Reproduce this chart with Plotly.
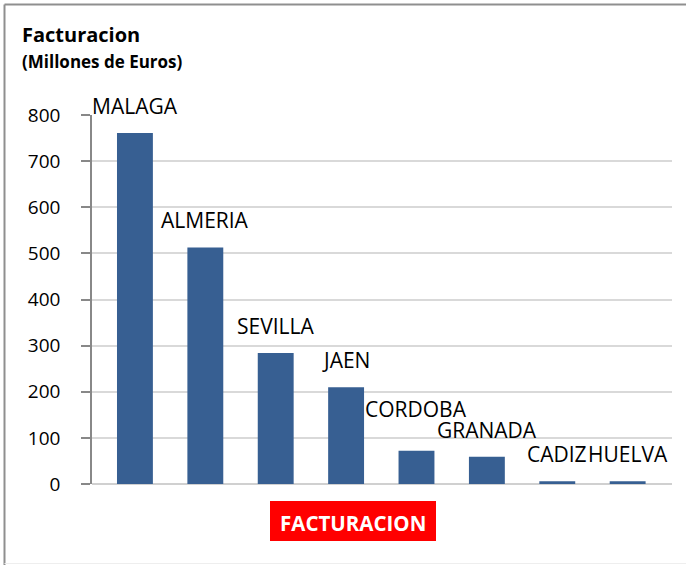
import plotly.graph_objects as go

categories = ["MALAGA", "ALMERIA", "SEVILLA", "JAEN", "CORDOBA", "GRANADA", "CADIZ", "HUELVA"]
values = [761, 513, 284, 210, 72, 59, 6, 6]
y_ticks = [0, 100, 200, 300, 400, 500, 600, 700, 800]

W, H = 686, 565
L, R, T, B = 92, 14, 115, 81
pw, ph = W - L - R, H - T - B

def px(x):
    return (x - L) / pw

def py(y):
    return (H - B - y) / ph

# extra lift for labels that the original nudged upward to avoid collisions
label_lift = {"CORDOBA": 15}

fig = go.Figure()
fig.add_trace(go.Bar(
    x=list(range(len(categories))), y=values, width=0.51,
    marker=dict(color="#375F92", line=dict(width=0)),
    hoverinfo="skip",
))

for i, (c, v) in enumerate(zip(categories, values)):
    fig.add_annotation(x=i, y=v, text=c, showarrow=False, xanchor="center",
                       yanchor="bottom", yshift=11 + label_lift.get(c, 0),
                       font=dict(family="Open Sans", size=21, color="#000000"))

# titles
fig.add_annotation(xref="paper", yref="paper", x=px(20), y=py(35), text="<b>Facturacion</b>",
                   showarrow=False, xanchor="left", yanchor="middle",
                   font=dict(family="Open Sans", size=20, color="#000000"))
fig.add_annotation(xref="paper", yref="paper", x=px(20), y=py(61), text="<b>(Millones de Euros)</b>",
                   showarrow=False, xanchor="left", yanchor="middle",
                   font=dict(family="Open Sans", size=17, color="#000000"))

# red label box
fig.add_shape(type="rect", xref="paper", yref="paper", x0=px(270), x1=px(436), y0=py(541), y1=py(501),
              fillcolor="#FF0000", line=dict(width=0), layer="above")
fig.add_annotation(xref="paper", yref="paper", x=px(353), y=py(523), text="<b>FACTURACION</b>",
                   showarrow=False, xanchor="center", yanchor="middle",
                   font=dict(family="Open Sans", size=20.5, color="#FFFFFF"))

# chart border
fig.add_shape(type="line", xref="paper", yref="paper", x0=px(4.5), x1=px(4.5), y0=py(565), y1=py(4.5),
              line=dict(color="#8F8F8F", width=2))
fig.add_shape(type="line", xref="paper", yref="paper", x0=px(4.5), x1=px(686), y0=py(4.5), y1=py(4.5),
              line=dict(color="#8F8F8F", width=2))
fig.add_shape(type="line", xref="paper", yref="paper", x0=px(4.5), x1=px(686), y0=py(563.5), y1=py(563.5),
              line=dict(color="#EEEEEE", width=1))

fig.update_layout(
    width=W, height=H, margin=dict(l=L, r=R, t=T, b=B, pad=0),
    paper_bgcolor="white", plot_bgcolor="white", showlegend=False,
    xaxis=dict(range=[-0.61, 7.63], showticklabels=False, showgrid=False, zeroline=False,
               showline=False, ticks="", fixedrange=True),
    yaxis=dict(range=[0, 800], tickvals=y_ticks, showgrid=True, gridcolor="#D9D9D9", gridwidth=1.5,
               zeroline=True, zerolinecolor="#D0D0D0", zerolinewidth=1.5,
               showline=True, linecolor="#888888", linewidth=1.5,
               ticks="outside", ticklen=9, tickcolor="#888888", tickwidth=1.5,
               ticklabelstandoff=17,
               tickfont=dict(family="Open Sans", size=19, color="#000000"), fixedrange=True),
)

fig.write_html("out.html", config={"displayModeBar": False},
               post_script="document.body.style.margin='0px';document.body.style.overflow='hidden';")
